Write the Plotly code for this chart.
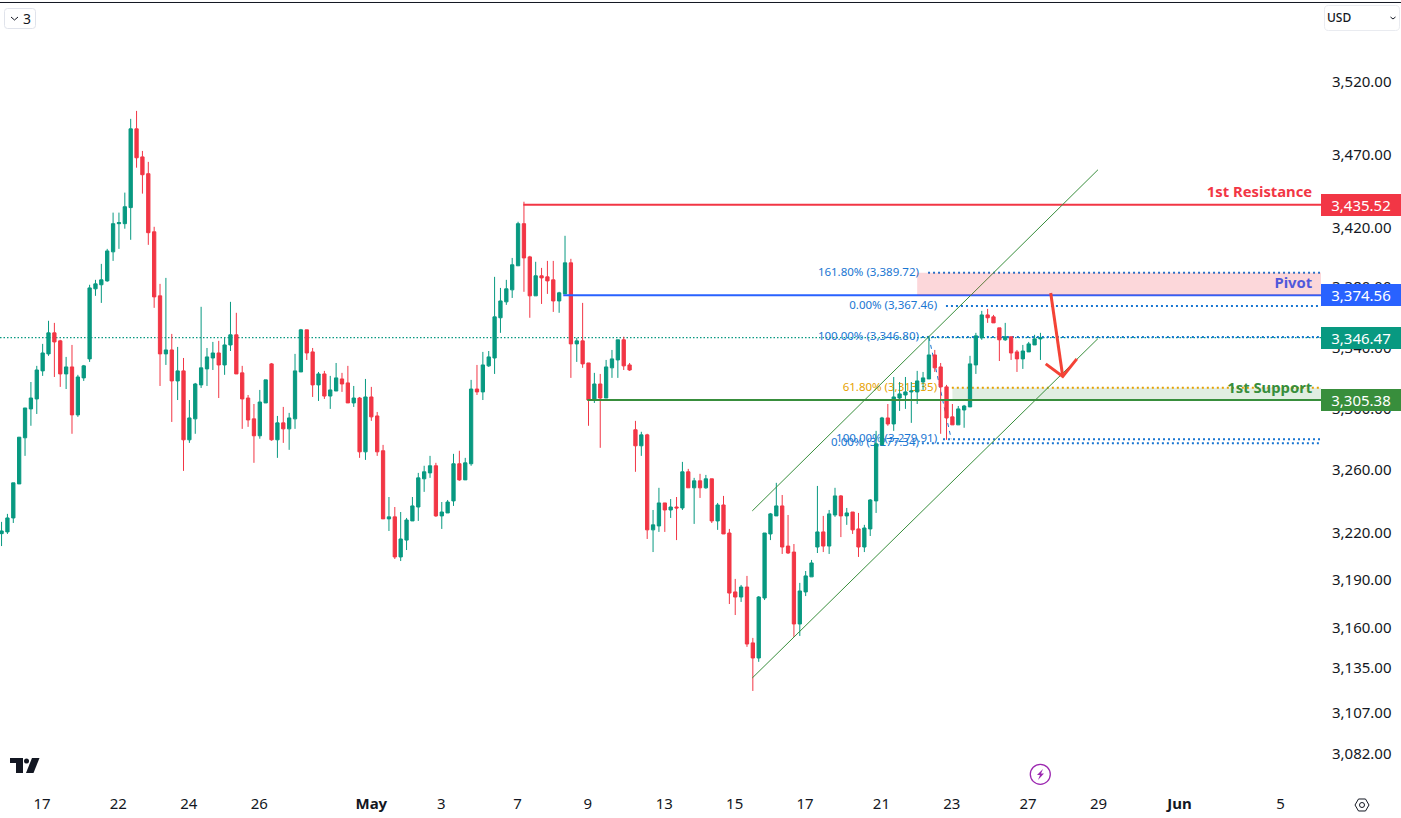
import math
import plotly.graph_objects as go

# 4h gold candles
opens = [3219.2,3220.3,3229.2,3251,3280.8,3299.6,3306.1,3324.5,3335.7,3349.6,
    3344.3,3322.5,3327.1,3295.7,3319.9,3332.4,3378.9,3381.6,3384.2,3403.7,
    3422.7,3422.7,3433.6,3487.5,3468.2,3456.7,3417.2,3374.2,3335.7,3338.3,
    3317.9,3324.5,3279.5,3293.1,3315.3,3325.8,3333,3336.3,3328.4,3341.6,
    3348.3,3323.2,3306.7,3293.1,3282.1,3303.5,3329.1,3279.5,3290.5,3286.6,
    3293.1,3323.8,3351.6,3337,3315.3,3322.5,3308,3311.3,3319.2,3316.6,
    3303.5,3306.7,3271.7,3307.4,3295,3272.4,3228.6,3229.9,3204.4,3215.1,
    3227.3,3236.2,3254.3,3258.1,3262.7,3230.5,3232.4,3240.1,3264,3253.6,
    3264,3312.6,3310.7,3327.8,3333,3359.6,3370.2,3378.2,3394.3,3422.7,
    3400.3,3374.2,3387.6,3386.9,3384.9,3370.8,3375.5,3396.3,3342.3,3344.3,
    3329.7,3305.4,3315.9,3306.7,3326.5,3331.7,3345,3328.4,3286,3275.6,
    3282.7,3221.6,3224.1,3238.8,3234.3,3236.2,3235.6,3258.8,3248.5,3253,
    3248.5,3254.3,3227.3,3237.5,3219.6,3182.3,3179.1,3185.4,3150.4,3141,
    3178.5,3219,3230.5,3236.9,3211.3,3207.5,3162.2,3182.3,3191.8,3210.7,
    3220.3,3211.3,3231.1,3243.3,3230.5,3233,3222.2,3210.7,3222.2,3240.1,
    3276.2,3293.7,3289.8,3306.7,3308.7,3310.7,3310.7,3317.2,3319.2,3335,
    3327.1,3314,3294.4,3289.2,3298.9,3300.9,3328.4,3346.3,3361.5,3360.2,
    3352.9,3345,3347,3337,3332.4,3337,3341.6,3345.6]
highs = [3226.7,3231.8,3251.7,3281.2,3300.2,3317.2,3327.8,3342.3,3357.6,3356.2,
    3345,3333.7,3341.6,3321.9,3328.4,3381.6,3384.9,3395.6,3405.7,3430.2,
    3430.2,3443.8,3494.4,3499.9,3472.3,3464.8,3420.6,3382.2,3386.2,3348.9,
    3340.3,3333,3305.4,3316.6,3366.9,3339.6,3343.6,3344.3,3346.3,3370.2,
    3362.9,3327.8,3308.7,3302.8,3312,3318.6,3329.7,3295,3300.9,3297,
    3335.7,3352.2,3351.6,3339.6,3323.8,3324.5,3321.2,3329.7,3323.2,3327.8,
    3314.6,3307.4,3319.2,3314,3297.6,3276.2,3242.6,3236.2,3233,3229.2,
    3242.6,3258.1,3262.7,3269.1,3264.6,3239.4,3240.7,3270.4,3272.4,3267.8,
    3318.6,3328.4,3337,3337.6,3386.9,3379.5,3384.9,3399.6,3424,3437.6,
    3401,3397,3392.9,3397.6,3397.6,3376.9,3414.5,3399,3346.3,3369.5,
    3329.7,3323.2,3322.5,3331.7,3338.3,3345,3347,3329.7,3291.8,3284.7,
    3283.4,3234.3,3248.5,3238.8,3241.3,3242.6,3265.2,3260.7,3254.9,3257.5,
    3256.8,3254.3,3238.8,3243.3,3222.2,3190.5,3186.7,3192.4,3153.5,3179.7,
    3219.6,3232.4,3251.7,3243.9,3231.1,3212.6,3188,3195.5,3202.5,3249.7,
    3230.5,3234.3,3248.5,3243.9,3235.6,3233,3232.4,3224.8,3241.3,3285.3,
    3294.4,3302.8,3320.5,3317.2,3320.5,3317.2,3324.5,3323.8,3347.6,3338.3,
    3329.7,3315.3,3302.8,3301.5,3302.2,3334.4,3349.6,3364.2,3365.5,3361.5,
    3352.9,3356.2,3347,3338.3,3341.6,3343.6,3348.3,3349.6]
lows = [3211.3,3219,3226,3251,3269.1,3288.6,3296.3,3321.2,3334.4,3320.5,
    3314,3312.6,3283.4,3294.4,3317.9,3330.4,3374.2,3369.5,3383.6,3397.6,
    3405.7,3419.3,3411.8,3460.8,3443.1,3408.4,3366.2,3314.6,3328.4,3291.1,
    3305.4,3259.4,3277.5,3283.4,3313.3,3314.6,3325.1,3306.7,3321.9,3337.6,
    3322.5,3286.6,3287.9,3264.6,3280.2,3303.5,3278.9,3267.8,3277.5,3273,
    3286.6,3323.8,3331.7,3307.4,3304.8,3306.1,3299.6,3311.3,3310.7,3303.5,
    3300.9,3267.8,3266.5,3291.8,3269.1,3228.6,3220.9,3203.1,3201.8,3208.8,
    3227.3,3227.3,3245.9,3254.9,3229.9,3222.2,3232.4,3236.9,3253,3253.6,
    3262.7,3308.7,3305.4,3327.1,3322.5,3349.6,3368.2,3372.8,3394.3,3376.9,
    3359.6,3374.2,3368.8,3375.5,3363.5,3362.9,3375.5,3319.9,3330.4,3326.5,
    3288.6,3303.5,3274.3,3306.7,3319.9,3319.9,3325.1,3324.5,3258.8,3269.1,
    3215.8,3207.5,3220.3,3220.3,3229.2,3215.1,3234.3,3248.5,3225.4,3242,
    3247.9,3226,3221.6,3219,3174.7,3167.8,3176,3147.9,3120.6,3138.6,
    3177.2,3215.1,3230.5,3206.3,3206.3,3154.1,3154.7,3179.7,3191.8,3206.9,
    3207.5,3206.3,3229.9,3217,3224.8,3219,3204.4,3207.5,3217.7,3232.4,
    3276.2,3288.6,3285.3,3298.3,3299.6,3290.5,3302.8,3312,3319.2,3323.8,
    3283.4,3279.5,3289.2,3289.2,3287.3,3300.9,3322.5,3345,3356.2,3356.2,
    3331,3344.3,3331.7,3323.8,3325.8,3337,3341.6,3331.7]
closes = [3220.9,3229.2,3251.7,3281.2,3300.2,3306.7,3325.1,3336.3,3349.6,3343.6,
    3322.5,3327.1,3295.7,3320.5,3327.8,3379.5,3382.2,3384.9,3404.3,3422.7,
    3423.4,3434.2,3487.5,3467.6,3456,3416.6,3373.5,3335.7,3338.3,3317.9,
    3324.5,3279.5,3293.7,3315.9,3326.5,3333.7,3336.3,3328.4,3341.6,3348.3,
    3322.5,3306.1,3292.4,3282.1,3304.1,3318.6,3279.5,3290.5,3286.6,3293.7,
    3324.5,3351.6,3336.3,3315.3,3322.5,3308,3312,3319.9,3315.9,3303.5,
    3306.7,3271.7,3307.4,3294.4,3271.7,3228.6,3229.9,3204.4,3215.8,3227.9,
    3236.9,3254.9,3258.8,3262.7,3230.5,3233,3239.4,3264,3253.6,3264.6,
    3312.6,3310.7,3328.4,3333.7,3360.2,3370.8,3378.9,3395,3422.7,3399.6,
    3374.2,3387.6,3386.2,3384.2,3370.8,3376.2,3396.3,3342.3,3344.3,3329.1,
    3305.4,3315.9,3306.7,3327.1,3332.4,3345,3327.8,3325.1,3275.6,3282.7,
    3221.6,3224.8,3238.8,3234.3,3236.2,3235.6,3258.8,3248.5,3253,3248.5,
    3254.3,3227.3,3237.5,3219,3181.6,3179.1,3185.4,3149.7,3141,3179.1,
    3219.6,3231.8,3236.9,3210.7,3206.9,3162.2,3182.9,3192.4,3200.6,3220.3,
    3211.3,3231.8,3243.3,3230.5,3232.4,3221.6,3210.7,3222.8,3240.7,3276.9,
    3293.7,3289.8,3307.4,3309.4,3310.7,3311.3,3317.9,3319.9,3335,3326.5,
    3314,3293.7,3289.2,3299.6,3301.5,3329.1,3347.6,3361.5,3359.6,3356.2,
    3345,3347,3336.3,3332.4,3337.6,3342.3,3345.6,3346.47]
bars = list(range(len(opens)))

# axis ticks
price_ticks = [3520, 3470, 3420, 3380, 3340, 3300, 3260, 3220, 3190, 3160, 3135, 3107, 3082]
time_ticks = [6.9, 19.9, 31.9, 43.9, 63, 74.9, 87.9, 99.9, 112.9, 124.9, 136.9, 149.9, 161.9,
              174.9, 186.9, 200.7, 217.9]
time_labels = ["17", "22", "24", "26", "<b>May</b>", "3", "7", "9", "13", "15", "17", "21", "23",
               "27", "29", "<b>Jun</b>", "5"]

# horizontal levels: name, price, first bar
level_names = ["1st Resistance", "Pivot", "1st Support"]
level_prices = [3435.52, 3374.56, 3305.38]
level_text_prices = [3443.0, 3381.9, 3312.4]
level_starts = [88.9, 95.7, 99.8]
level_colors = ["#f23645", "#2962ff", "#388e3c"]
last_price = 3346.47

# fib tool lines
fib_labels = ["161.80% (3,389.72)", "0.00% (3,367.46)", "100.00% (3,346.80)",
              "61.80% (3,313.35)", "100.00% (3,279.91)", "0.00% (3,277.34)"]
fib_prices = [3389.72, 3367.46, 3346.80, 3313.35, 3279.91, 3277.34]
fib_starts = [157.85, 160.9, 156.8, 161.9, 160.4, 156.8]
fib_text_ends = [156.3, 159.4, 156.3, 159.4, 159.4, 156.3]
fib_colors = ["#1976d2", "#1976d2", "#1976d2", "#e6a100", "#1976d2", "#1976d2"]
fib_link_x = [158.0, 161.8]
fib_link_y = [3346.80, 3279.91]

# channel and arrow
channel_x = [127.9, 186.8]
channel_upper = [3233.7, 3459.4]
channel_lower = [3128.6, 3345.8]
arrow_x = [178.75, 180.8]
arrow_y = [3376.1, 3320.8]
arrow_head_x = [177.9, 180.8, 183.2]
arrow_head_y = [3329.1, 3320.8, 3332.4]

# shaded zones: first bar, bottom, top
pink_zone = [156.0, 3374.56, 3389.72]
green_zone = [162.0, 3305.38, 3313.35]

X_END = 224.8
X_RANGE = [-0.266, X_END]
Y_RANGE = [3.48573, 3.55358]
PLOT_W = 1321
PLOT_H = 790
FONT = "Noto Sans"


def px(x):
    return x / PLOT_W


def py(y):
    return 1 - y / PLOT_H


def path(points, close=False):
    s = "M " + " L ".join(f"{px(x):.5f},{py(y):.5f}" for x, y in points)
    return s + (" Z" if close else "")


def rounded(x0, y0, x1, y1, r):
    return (f"M {px(x0+r):.5f},{py(y0):.5f} L {px(x1-r):.5f},{py(y0):.5f} "
            f"Q {px(x1):.5f},{py(y0):.5f} {px(x1):.5f},{py(y0+r):.5f} "
            f"L {px(x1):.5f},{py(y1-r):.5f} Q {px(x1):.5f},{py(y1):.5f} {px(x1-r):.5f},{py(y1):.5f} "
            f"L {px(x0+r):.5f},{py(y1):.5f} Q {px(x0):.5f},{py(y1):.5f} {px(x0):.5f},{py(y1-r):.5f} "
            f"L {px(x0):.5f},{py(y0+r):.5f} Q {px(x0):.5f},{py(y0):.5f} {px(x0+r):.5f},{py(y0):.5f} Z")


fig = go.Figure()

# under the candles, on the base axes
fig.add_trace(go.Scatter(x=[X_RANGE[0], X_END], y=[last_price, last_price], mode="lines",
                         line=dict(color="#089981", width=1.3, dash="1.5px,2px")))
fig.add_trace(go.Scatter(x=fib_link_x, y=fib_link_y, mode="lines",
                         line=dict(color="#1976d2", width=1, dash="4px,4px")))
for price, start, color in zip(fib_prices, fib_starts, fib_colors):
    fig.add_trace(go.Scatter(x=[start, X_END], y=[price, price], mode="lines",
                             line=dict(color=color, width=2, dash="2px,3px")))
fig.add_trace(go.Scatter(x=fib_text_ends, y=fib_prices, mode="text", text=fib_labels,
                         textposition="middle left",
                         textfont=dict(family=FONT, size=11.5, color=fib_colors)))

# candles and everything above them sit on the overlaid axes
fig.add_trace(go.Candlestick(x=bars, open=opens, high=highs, low=lows, close=closes,
                             xaxis="x2", yaxis="y2", whiskerwidth=0,
                             increasing=dict(line=dict(color="#089981", width=1), fillcolor="#089981"),
                             decreasing=dict(line=dict(color="#f23645", width=1), fillcolor="#f23645")))
for start, price, color in zip(level_starts, level_prices, level_colors):
    fig.add_trace(go.Scatter(x=[start, X_END], y=[price, price], mode="lines", xaxis="x2", yaxis="y2",
                             line=dict(color=color, width=2)))
for ys in (channel_upper, channel_lower):
    fig.add_trace(go.Scatter(x=channel_x, y=ys, mode="lines", xaxis="x2", yaxis="y2",
                             line=dict(color="#388e3c", width=1)))
fig.add_trace(go.Scatter(x=arrow_x, y=arrow_y, mode="lines", xaxis="x2", yaxis="y2",
                         line=dict(color="#f44336", width=3)))
fig.add_trace(go.Scatter(x=arrow_head_x, y=arrow_head_y, mode="lines", xaxis="x2", yaxis="y2",
                         line=dict(color="#f44336", width=3)))
fig.add_trace(go.Scatter(x=[223.3] * 3, y=level_text_prices, mode="text", text=level_names,
                         textposition="middle left", xaxis="x2", yaxis="y2",
                         textfont=dict(family=FONT, size=14.8, color=level_colors, weight=700)))

shapes = [
    dict(type="rect", xref="x", yref="y", layer="below", x0=green_zone[0], x1=X_END,
         y0=green_zone[1], y1=green_zone[2], fillcolor="rgba(56,142,60,0.15)", line_width=0),
    dict(type="rect", xref="x", yref="y", layer="above", x0=pink_zone[0], x1=X_END,
         y0=pink_zone[1], y1=pink_zone[2], fillcolor="rgba(242,54,69,0.2)", line_width=0),
]


def deco(d, **kw):
    s = dict(type="path", xref="paper", yref="paper", path=d, line=dict(width=0))
    s.update(kw)
    shapes.append(s)


# chart frame bits
deco(path([(0, 2.5), (1401, 2.5)]), line=dict(color="#131722", width=1))
deco(rounded(4.5, 8.5, 35.5, 28.5, 3), line=dict(color="#e0e3eb", width=1))
deco(path([(11, 17), (14.5, 20), (18, 17)]), line=dict(color="#131722", width=1))
deco(rounded(1324.5, 5.5, 1399.5, 30.5, 4), line=dict(color="#e9ebf0", width=1))
deco(path([(1390.5, 17), (1393, 19), (1395.5, 17)]), line=dict(color="#131722", width=1))
# logo
deco(path([(10, 758), (23, 758), (23, 773), (16, 773), (16, 763), (10, 763)], True), fillcolor="#131722")
deco(path([(32, 758), (39.5, 758), (33.5, 773), (26, 773)], True), fillcolor="#131722")
shapes.append(dict(type="circle", xref="paper", yref="paper", x0=px(24), x1=px(29), y0=py(763.5), y1=py(758.5),
                   fillcolor="#131722", line_width=0))
# lightning badge
shapes.append(dict(type="circle", xref="paper", yref="paper", x0=px(1030.3), x1=px(1050.3), y0=py(784.3), y1=py(764.3),
                   fillcolor="white", line=dict(color="#9c27b0", width=1.3)))
deco(path([(1043, 769), (1037, 775), (1040, 775), (1038, 780), (1044, 773.5), (1041, 773.5)], True), fillcolor="#9c27b0")
# settings gear
deco(path([(1355, 805), (1358.5, 799), (1365.5, 799), (1369, 805), (1365.5, 811), (1358.5, 811)], True),
     line=dict(color="#131722", width=1))
shapes.append(dict(type="circle", xref="paper", yref="paper", x0=px(1359.5), x1=px(1364.5), y0=py(807.5), y1=py(802.5),
                   line=dict(color="#131722", width=1)))

annotations = []
for price, color in zip(level_prices + [last_price], level_colors + ["#089981"]):
    annotations.append(dict(xref="paper", yref="y", x=1, y=math.log10(price), xanchor="left", yanchor="middle",
                            text=f"{price:,.2f}", showarrow=False, width=80, height=22, bgcolor=color,
                            borderpad=0, borderwidth=0, align="center",
                            font=dict(family=FONT, size=15, color="white")))
annotations.append(dict(xref="paper", yref="paper", x=px(27), y=py(18), xanchor="center", yanchor="middle",
                        text="3", showarrow=False, font=dict(family=FONT, size=14, color="#131722")))
annotations.append(dict(xref="paper", yref="paper", x=px(1338.5), y=py(17), xanchor="center", yanchor="middle",
                        text="USD", showarrow=False, font=dict(family=FONT, size=12, color="#131722", weight=500)))

fig.update_layout(
    width=1401, height=818, margin=dict(l=0, r=80, t=0, b=28),
    paper_bgcolor="white", plot_bgcolor="white", showlegend=False, hovermode=False,
    dragmode=False, shapes=shapes, annotations=annotations, boxgap=0.2,
    xaxis=dict(range=X_RANGE, tickmode="array", tickvals=time_ticks, ticktext=time_labels,
               showgrid=False, zeroline=False, showline=False, ticks="", ticklabelstandoff=3,
               rangeslider=dict(visible=False), tickfont=dict(family=FONT, size=15, color="#131722")),
    yaxis=dict(type="log", range=Y_RANGE, side="right", tickmode="array", tickvals=price_ticks,
               ticktext=[f"{p:,.2f}" for p in price_ticks], showgrid=False, zeroline=False, showline=False,
               ticks="", ticklabelstandoff=10, tickfont=dict(family=FONT, size=15, color="#131722")),
    xaxis2=dict(range=X_RANGE, overlaying="x", visible=False, rangeslider=dict(visible=False)),
    yaxis2=dict(type="log", range=Y_RANGE, overlaying="y", side="right", visible=False),
)

fig.write_html("out.html", config=dict(displayModeBar=False),
               post_script="document.body.style.margin='0';document.body.style.overflow='hidden';")
